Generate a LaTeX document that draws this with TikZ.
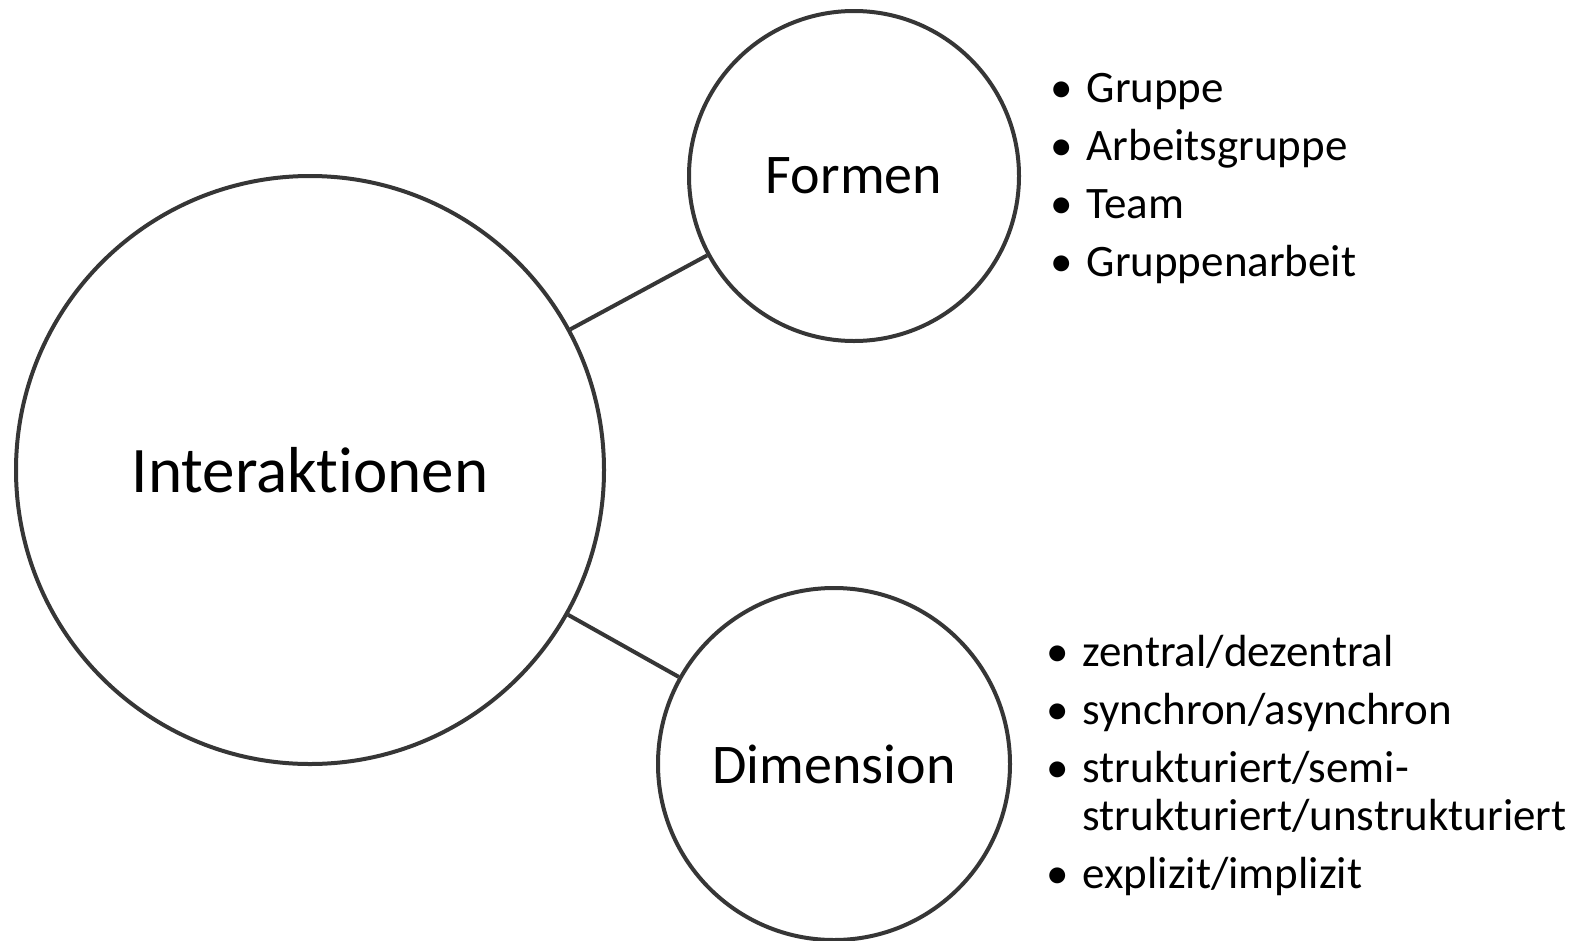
\documentclass[tikz,border=0pt]{standalone}
\usepackage{fontspec}
\usepackage{xcolor}
\setmainfont{Carlito}[Ligatures=NoCommon]
\definecolor{ringgray}{HTML}{363636}

\begin{document}
\begin{tikzpicture}[x=1pt,y=-1pt,
    ring/.style={circle,draw=ringgray,line width=4pt,inner sep=0pt},
    link/.style={draw=ringgray,line width=4pt},
    listtext/.style={anchor=west,inner sep=0pt,font=\fontsize{45}{48.5}\selectfont}]
    \useasboundingbox (0,0) rectangle (1584,940);

    % Circles
    \node[ring,minimum size=588pt,font=\fontsize{65}{78}\selectfont] (inter) at (310,470) {Interaktionen};
    \node[ring,minimum size=330pt,font=\fontsize{56}{66}\selectfont] (formen) at (854,176) {Formen};
    \node[ring,minimum size=352pt,font=\fontsize{56}{66}\selectfont] (dim) at (834,764) {Dimension};

    % Links
    \draw[link] (inter) -- (formen);
    \draw[link] (inter) -- (dim);

    % Formen list
    \node[listtext] (formlist) at (1050,180) {%
        \begin{tabular}{@{}l@{\hspace{14pt}}l@{}}
            \textbullet & Gruppe\\[9.5pt]
            \textbullet & Arbeitsgruppe\\[9.5pt]
            \textbullet & Team\\[9.5pt]
            \textbullet & Gruppenarbeit
        \end{tabular}};

    % Dimension list
    \node[listtext] (dimlist) at (1046,768) {%
        \begin{tabular}{@{}l@{\hspace{14pt}}l@{}}
            \textbullet & zentral/dezentral\\[9.5pt]
            \textbullet & synchron/asynchron\\[9.5pt]
            \textbullet & strukturiert/semi-\\
                        & strukturiert/unstrukturiert\\[9.5pt]
            \textbullet & explizit/implizit
        \end{tabular}};
\end{tikzpicture}
\end{document}
